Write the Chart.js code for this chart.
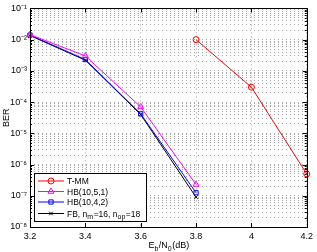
<!DOCTYPE html>
<html>
<head>
<meta charset="utf-8">
<script src="https://cdn.jsdelivr.net/npm/chart.js@4/dist/chart.umd.min.js"></script>
<style>
  html, body { margin: 0; padding: 0; background: #fff; }
  #wrap { width: 317px; height: 252px; }
</style>
</head>
<body>
<div id="wrap"><canvas id="berChart" width="317" height="252"></canvas></div>
<script>
// data
const ebn0 = [3.2, 3.4, 3.6, 3.8];
const ebn0Tmm = [3.8, 4.0, 4.2];
const berTmm = [1.0e-2, 3.0e-4, 5.0e-7];
const berHb951 = [1.45e-2, 3.0e-3, 7.0e-5, 2.3e-7];
const berHb942 = [1.4e-2, 2.3e-3, 4.2e-5, 1.25e-7];
const berFb = [1.35e-2, 2.2e-3, 4.0e-5, 9.0e-8];

const seriesNames = ['T-MM', 'HB(10,5,1)', 'HB(10,4,2)', 'FB, n_{m}=16, n_{op}=18'];
const xTicks = [3.2, 3.4, 3.6, 3.8, 4.0, 4.2];
const yDecades = [-8, -7, -6, -5, -4, -3, -2, -1];
const yTickLabels = ['10⁻⁸', '10⁻⁷', '10⁻⁶', '10⁻⁵', '10⁻⁴', '10⁻³', '10⁻²', '10⁻¹'];
const xTitle = 'E_{b}/N_{0}(dB)';
const yTitle = 'BER';

const FONT = '"Liberation Sans", Arial, sans-serif';
const GRID = 'rgba(0,0,0,0.35)';

function pts(xs, ys) {
  return xs.map((x, i) => ({ x: x, y: ys[i] }));
}

// split "a_{b}c" into [{t:'a'},{t:'b',sub:true},{t:'c'}]
function parseSub(str) {
  const parts = [];
  const re = /_\{([^}]*)\}/g;
  let last = 0, m;
  while ((m = re.exec(str)) !== null) {
    if (m.index > last) parts.push({ t: str.slice(last, m.index) });
    parts.push({ t: m[1], sub: true });
    last = re.lastIndex;
  }
  if (last < str.length) parts.push({ t: str.slice(last) });
  return parts;
}

function richWidth(ctx, parts, size, subSize) {
  let w = 0;
  for (const p of parts) {
    ctx.font = (p.sub ? subSize : size) + 'px ' + FONT;
    w += ctx.measureText(p.t).width;
  }
  return w;
}

function drawRich(ctx, parts, x, y, size, subSize) {
  ctx.textBaseline = 'alphabetic';
  ctx.textAlign = 'left';
  for (const p of parts) {
    ctx.font = (p.sub ? subSize : size) + 'px ' + FONT;
    ctx.fillText(p.t, x, p.sub ? y + 2.5 : y);
    x += ctx.measureText(p.t).width + (p.sub ? 0.5 : 0);
  }
}

const series = [
  { label: seriesNames[0], data: pts(ebn0Tmm, berTmm), color: '#ff0000', style: 'circle', r: 3 },
  { label: seriesNames[1], data: pts(ebn0, berHb951), color: '#ff00ff', style: 'triangle', r: 3.5 },
  { label: seriesNames[2], data: pts(ebn0, berHb942), color: '#0000ff', style: 'rect', r: 3 },
  { label: seriesNames[3], data: pts(ebn0, berFb), color: '#000000', style: 'crossRot', r: 2.5 }
];

const matlabFrame = {
  id: 'matlabFrame',
  afterDraw(chart) {
    const ctx = chart.ctx;
    const a = chart.chartArea;
    const ys = chart.scales.y;
    const xs = chart.scales.x;
    ctx.save();
    ctx.strokeStyle = '#000';
    ctx.lineWidth = 1;
    // inward ticks
    ctx.beginPath();
    for (const t of ys.ticks) {
      const py = Math.round(ys.getPixelForValue(t.value)) + 0.5;
      const len = t.major ? 4 : 2;
      ctx.moveTo(a.left, py); ctx.lineTo(a.left + len, py);
      ctx.moveTo(a.right, py); ctx.lineTo(a.right - len, py);
    }
    for (const t of xs.ticks) {
      const px = Math.round(xs.getPixelForValue(t.value)) + 0.5;
      ctx.moveTo(px, a.bottom); ctx.lineTo(px, a.bottom - 4);
      ctx.moveTo(px, a.top); ctx.lineTo(px, a.top + 4);
    }
    ctx.stroke();
    ctx.strokeRect(Math.round(a.left) + 0.5, Math.round(a.top) + 0.5,
      Math.round(a.right - a.left), Math.round(a.bottom - a.top));

    // x axis title with subscripts
    ctx.fillStyle = '#000';
    const xt = parseSub(xTitle);
    const w = richWidth(ctx, xt, 9, 7);
    drawRich(ctx, xt, (a.left + a.right) / 2 - w / 2, 248, 9, 7);

    // legend box
    const box = { left: 34, top: 173, width: 112, height: 48 };
    ctx.fillStyle = '#fff';
    ctx.fillRect(box.left, box.top, box.width, box.height);
    ctx.strokeStyle = '#000';
    ctx.strokeRect(box.left + 0.5, box.top + 0.5, box.width, box.height);
    const rowY = [181, 191.5, 202, 213.5];
    series.forEach((s, i) => {
      const y = rowY[i];
      ctx.strokeStyle = s.color;
      ctx.lineWidth = 1;
      ctx.beginPath();
      ctx.moveTo(38, y); ctx.lineTo(64, y);
      ctx.stroke();
      ctx.fillStyle = 'rgba(0,0,0,0)';
      Chart.helpers.drawPoint(ctx, { pointStyle: s.style, radius: s.r, borderWidth: 1, rotation: 0 }, 51, y);
      ctx.fillStyle = '#000';
      drawRich(ctx, parseSub(s.label), 67, y + 3, 8.5, 7);
    });
    ctx.restore();
  }
};

new Chart(document.getElementById('berChart'), {
  type: 'line',
  data: {
    datasets: series.map(s => ({
      label: s.label,
      data: s.data,
      borderColor: s.color,
      backgroundColor: 'rgba(0,0,0,0)',
      borderWidth: 1,
      pointStyle: s.style,
      pointRadius: s.r,
      pointBorderColor: s.color,
      pointBackgroundColor: 'rgba(0,0,0,0)',
      pointBorderWidth: 1,
      tension: 0,
      clip: 6
    }))
  },
  options: {
    responsive: false,
    animation: false,
    layout: { padding: { left: 0, right: 7, top: 6, bottom: 0 } },
    plugins: {
      legend: { display: false },
      tooltip: { enabled: false }
    },
    scales: {
      x: {
        type: 'linear',
        min: 3.2,
        max: 4.2,
        afterBuildTicks: scale => { scale.ticks = xTicks.map(v => ({ value: v })); },
        afterFit: scale => { scale.height = 25; },
        ticks: {
          font: { family: FONT, size: 9 },
          color: '#000',
          padding: 4,
          maxRotation: 0,
          autoSkip: false,
          callback: v => String(Math.round(v * 10) / 10)
        },
        grid: {
          color: GRID,
          lineWidth: 1,
          drawTicks: false
        },
        border: { display: false, dash: [1, 3] }
      },
      y: {
        type: 'logarithmic',
        min: 1e-8,
        max: 1e-1,
        afterBuildTicks: scale => {
          const ticks = [];
          yDecades.forEach((e, i) => {
            for (let m = 1; m <= 9; m++) {
              if (i === yDecades.length - 1 && m > 1) break;
              ticks.push({ value: m * Math.pow(10, e), major: m === 1, label: m === 1 ? yTickLabels[i] : '' });
            }
          });
          scale.ticks = ticks;
        },
        afterFit: scale => { scale.width = 30; },
        ticks: {
          font: { family: FONT, size: 9 },
          color: '#000',
          padding: 3,
          autoSkip: false,
          callback: function (v, i, ticks) { return ticks[i].label; }
        },
        title: {
          display: true,
          text: yTitle,
          font: { family: FONT, size: 9 },
          color: '#000',
          padding: { top: 1, bottom: 0 }
        },
        grid: {
          color: GRID,
          lineWidth: 1,
          drawTicks: false
        },
        border: { display: false, dash: [1, 3] }
      }
    }
  },
  plugins: [matlabFrame]
});
</script>
</body>
</html>
